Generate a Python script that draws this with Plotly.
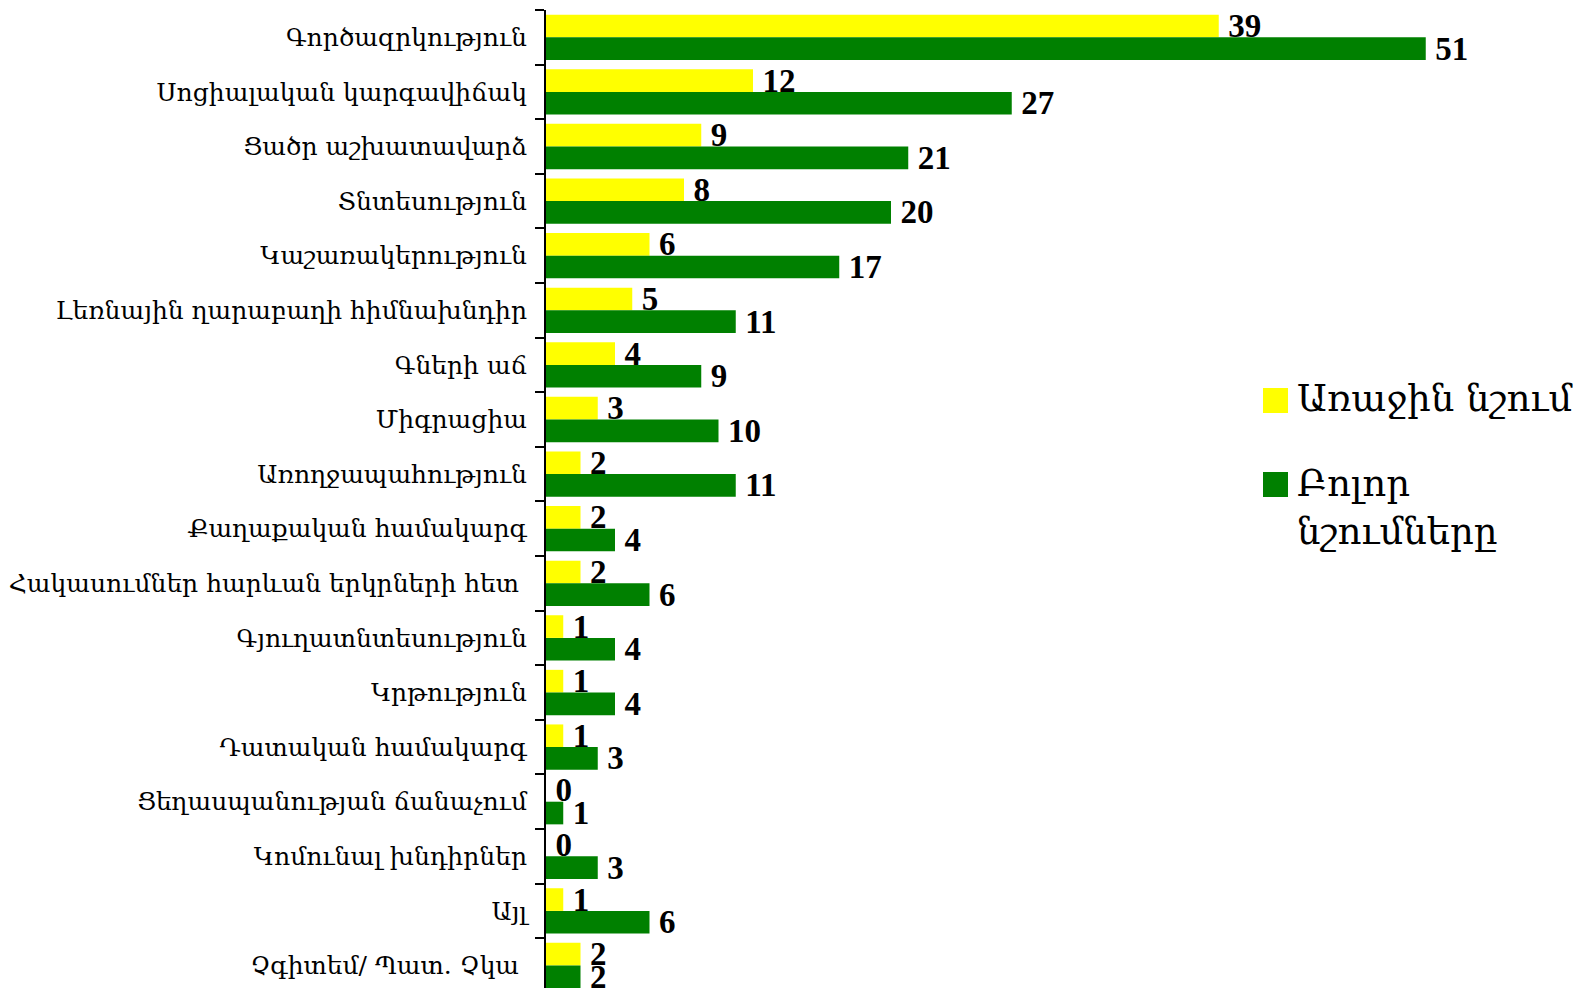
import plotly.graph_objects as go

categories = [
    "Գործազրկություն",
    "Սոցիալական կարգավիճակ",
    "Ցածր աշխատավարձ",
    "Տնտեսություն",
    "Կաշառակերություն",
    "Լեռնային ղարաբաղի հիմնախնդիր",
    "Գների աճ",
    "Միգրացիա",
    "Առողջապահություն",
    "Քաղաքական համակարգ",
    "Հակասումներ հարևան երկրների հետ ",
    "Գյուղատնտեսություն",
    "Կրթություն",
    "Դատական համակարգ",
    "Ցեղասպանության ճանաչում",
    "Կոմունալ խնդիրներ",
    "Այլ",
    "Չգիտեմ/ Պատ. Չկա ",
]
first_mention = [39, 12, 9, 8, 6, 5, 4, 3, 2, 2, 2, 1, 1, 1, 0, 0, 1, 2]
all_mentions = [51, 27, 21, 20, 17, 11, 9, 10, 11, 4, 6, 4, 4, 3, 1, 3, 6, 2]
series_names = ["Առաջին նշում", "Բոլոր<br>նշումները"]
colors = ["#FFFF00", "#008000"]

# page body has an 8px margin; figure coordinates = screen - 8
OFF = 8
W, H = 1581, 988
ML, MR, MT, MB = 538, 0, 2, 0

fig = go.Figure()
for vals, name, col in zip([first_mention, all_mentions], series_names, colors):
    fig.add_trace(go.Bar(
        y=categories, x=vals, orientation="h", name=name,
        marker=dict(color=col, line=dict(width=0)),
        text=vals, texttemplate="\u2009<b>%{x}</b>", textposition="outside",
        constraintext="none", cliponaxis=False,
        textfont=dict(family="Liberation Serif", size=33, color="black"),
        showlegend=False,
    ))

plot_w = W - ML - MR
plot_h = H - MT - MB
band = 54.6
unit = 17.25

fig.update_layout(
    width=W, height=H,
    margin=dict(l=ML, r=MR, t=MT, b=MB, autoexpand=False),
    barmode="group", bargap=0.17, bargroupgap=0,
    plot_bgcolor="white", paper_bgcolor="white",
)
fig.update_xaxes(range=[0, plot_w / unit], visible=False, showgrid=False, automargin=False)
fig.update_yaxes(
    range=[-0.5 + plot_h / band, -0.5], type="category", automargin=False,
    showline=True, linecolor="black", linewidth=2,
    ticks="outside", tickson="boundaries", ticklen=9, tickcolor="black", tickwidth=2,
    ticklabelstandoff=12,
    tickfont=dict(family="DejaVu Serif", size=25, color="black"),
    showgrid=False,
)

# manual legend (screen pixel positions converted to paper coords)
def px(x):
    return (x - OFF - ML) / plot_w
def py(y):
    return (H - MB - (y - OFF)) / plot_h

legend_rows = [(388, 400), (472, 485)]
for (top, ty), name, col in zip(legend_rows, series_names, colors):
    fig.add_shape(type="rect", xref="paper", yref="paper",
                  x0=px(1263), x1=px(1288), y0=py(top + 25), y1=py(top),
                  fillcolor=col, line=dict(width=0))
    fig.add_annotation(xref="paper", yref="paper", x=px(1295), y=py(ty - 25),
                       xanchor="left", yanchor="top", align="left",
                       text=name, showarrow=False,
                       font=dict(family="DejaVu Serif", size=37, color="black"))

fig.write_html("out.html")
